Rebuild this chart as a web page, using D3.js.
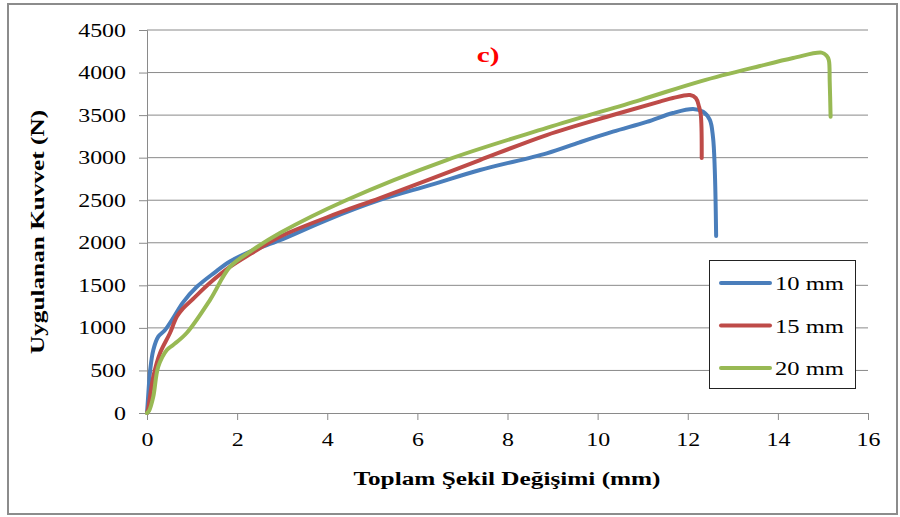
<!DOCTYPE html>
<html>
<head>
<meta charset="utf-8">
<script src="https://cdn.jsdelivr.net/npm/d3@7"></script>
<style>
  body { margin: 0; background: #fff; }
  svg text { font-family: "Liberation Serif", "Times New Roman", serif; fill: #000; }
</style>
</head>
<body>
<svg id="chart" width="900" height="517"></svg>
<script>
// data: [deformation mm, force N]
var series10 = [[0,0],[0.02,150],[0.07,500],[0.14,740],[0.25,897],[0.4,975],[0.58,1116],[0.8,1300],
  [1.1,1480],[1.5,1650],[1.84,1780],[2.3,1900],[2.95,2030],[4.0,2270],[5.17,2503],[6.3,2680],
  [7.39,2855],[8.87,3051],[9.6,3180],[10.34,3305],[11.09,3420],[11.67,3525],[12.12,3572],
  [12.34,3540],[12.49,3443],[12.56,3243],[12.6,2855],[12.63,2080]];
var series15 = [[0,0],[0.02,35],[0.14,427],[0.29,705],[0.51,940],[0.66,1131],[0.8,1230],[1.02,1340],
  [1.4,1530],[1.84,1716],[2.3,1870],[2.95,2071],[4.0,2300],[5.17,2526],[6.3,2750],[7.39,2972],
  [8.87,3266],[10.34,3501],[11.38,3658],[11.67,3701],[12.05,3736],[12.18,3700],[12.25,3600],
  [12.29,3500],[12.31,2996]];
var series20 = [[0,0],[0.05,30],[0.14,192],[0.25,544],[0.44,740],[0.58,799],[0.88,940],[1.4,1330],
  [1.84,1716],[2.3,1900],[2.95,2115],[4.43,2503],[6.65,2972],[8.87,3349],[10.94,3677],[12.3,3900],
  [13.6,4077],[14.34,4171],[14.97,4234],[15.08,4200],[15.13,4148],[15.15,3900],[15.17,3482]];

var seriesNames = ["10 mm", "15 mm", "20 mm"];
var seriesColors = ["#4a7ebb", "#be4b48", "#98b954"];
var xTicks = [0, 2, 4, 6, 8, 10, 12, 14, 16];
var yTicks = [0, 500, 1000, 1500, 2000, 2500, 3000, 3500, 4000, 4500];

// the source font is drawn wide, so stretch text along its reading direction
var stretch = 1.33;

const svg = d3.select("#chart");

// outer frame
svg.append("rect")
  .attr("x", 8).attr("y", 4).attr("width", 889).attr("height", 510)
  .attr("fill", "none").attr("stroke", "#8c8c8c").attr("stroke-width", 2);

var x = d3.scaleLinear().domain([0, 16]).range([147, 868]);
var y = d3.scaleLinear().domain([0, 4500]).range([413, 30]);

// horizontal grid
svg.append("g").selectAll("line")
  .data(yTicks.slice(1))
  .join("line")
  .attr("x1", x(0)).attr("x2", x(16))
  .attr("y1", d => y(d)).attr("y2", d => y(d))
  .attr("stroke", "#8a8a8a").attr("stroke-width", 1);

// y axis
const yAxis = svg.append("g")
  .attr("transform", `translate(${x(0)},0)`)
  .call(d3.axisLeft(y).tickValues(yTicks).tickSize(8).tickFormat(d3.format("d")));
yAxis.select(".domain").attr("stroke", "#8a8a8a");
yAxis.selectAll(".tick line").attr("stroke", "#8a8a8a");
yAxis.selectAll(".tick text")
  .attr("x", 0).attr("dy", null).attr("y", 6)
  .attr("transform", `translate(-21,0) scale(${stretch},1)`)
  .style("font-size", "18px").attr("font-family", "Liberation Serif");

// x axis
const xAxis = svg.append("g")
  .attr("transform", `translate(0,${y(0)})`)
  .call(d3.axisBottom(x).tickValues(xTicks).tickSize(7).tickFormat(d3.format("d")));
xAxis.select(".domain").attr("stroke", "#8a8a8a");
xAxis.selectAll(".tick line").attr("stroke", "#8a8a8a");
xAxis.selectAll(".tick text")
  .attr("y", 0).attr("dy", null)
  .attr("transform", `translate(0,33) scale(${stretch},1)`)
  .style("font-size", "18px").attr("font-family", "Liberation Serif");

// curves
var line = d3.line()
  .x(d => x(d[0]))
  .y(d => y(d[1]))
  .curve(d3.curveCatmullRom.alpha(0.5));

[series10, series15, series20].forEach(function(s, i) {
  svg.append("path")
    .datum(s)
    .attr("d", line)
    .attr("fill", "none")
    .attr("stroke", seriesColors[i])
    .attr("stroke-width", 4)
    .attr("stroke-linejoin", "round")
    .attr("stroke-linecap", "round");
});

// titles
svg.append("text")
  .attr("transform", `translate(488,62) scale(${stretch},1)`)
  .attr("text-anchor", "middle")
  .style("font-size", "22px").style("font-weight", "bold").style("fill", "#ff0000")
  .text("c)");

svg.append("text")
  .attr("transform", `translate(44,232) rotate(-90) scale(${stretch},1)`)
  .attr("text-anchor", "middle")
  .style("font-size", "19px").style("font-weight", "bold")
  .text("Uygulanan Kuvvet (N)");

svg.append("text")
  .attr("transform", `translate(507,485) scale(${stretch},1)`)
  .attr("text-anchor", "middle")
  .style("font-size", "19px").style("font-weight", "bold")
  .text("Toplam Şekil Değişimi (mm)");

// legend
const legend = svg.append("g");
legend.append("rect")
  .attr("x", 709.5).attr("y", 260.5).attr("width", 146).attr("height", 128)
  .attr("fill", "#fff").attr("stroke", "#222").attr("stroke-width", 1);

seriesNames.forEach(function(name, i) {
  var ly = 283 + i * 42.5;
  legend.append("line")
    .attr("x1", 721).attr("x2", 770).attr("y1", ly).attr("y2", ly)
    .attr("stroke", seriesColors[i]).attr("stroke-width", 4).attr("stroke-linecap", "round");
  legend.append("text")
    .attr("transform", `translate(775,${ly + 7}) scale(${stretch},1)`)
    .style("font-size", "18.5px")
    .text(name);
});
</script>
</body>
</html>
